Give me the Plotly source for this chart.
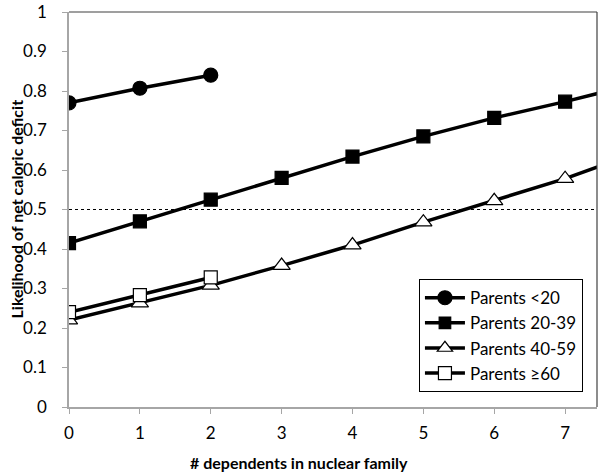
import plotly.graph_objects as go

x_all = [0, 1, 2, 3, 4, 5, 6, 7, 7.6]
p_lt20 = [0.77, 0.807, 0.84]
p_20_39 = [0.415, 0.47, 0.525, 0.58, 0.634, 0.685, 0.732, 0.773, 0.80]
p_40_59 = [0.22, 0.263, 0.308, 0.358, 0.41, 0.468, 0.522, 0.578, 0.617]
p_ge60 = [0.24, 0.283, 0.328]
threshold = 0.5
names = ["Parents <20", "Parents 20-39", "Parents 40-59", "Parents \u226560"]
x_ticks = [0, 1, 2, 3, 4, 5, 6, 7]
y_ticks = [0, 0.1, 0.2, 0.3, 0.4, 0.5, 0.6, 0.7, 0.8, 0.9, 1]
y_ticktext = ["0", "0.1", "0.2", "0.3", "0.4", "0.5", "0.6", "0.7", "0.8", "0.9", "1"]
x_title = "# dependents in nuclear family"
y_title = "Likelihood of net caloric deficit"

FONT = "Lato"
fig = go.Figure()

def add(xs, ys, name, symbol, color, size):
    sizes = [size] * len(ys)
    if len(ys) > 8:
        sizes[-1] = 0
    fig.add_trace(go.Scatter(
        x=xs[:len(ys)], y=ys, name=name, mode="lines+markers",
        line=dict(color="black", width=3.5),
        marker=dict(symbol=symbol, size=sizes, color=color, opacity=1,
                    line=dict(color="black", width=1.2)),
    ))

add(x_all, p_lt20, names[0], "circle", "black", 14)
add(x_all, p_20_39, names[1], "square", "black", 13)
add(x_all, p_40_59, names[2], "triangle-up", "white", 15)
add(x_all, p_ge60, names[3], "square", "white", 13)

fig.add_shape(type="line", xref="paper", yref="y", x0=0, x1=1, y0=threshold, y1=threshold,
              line=dict(color="black", width=1.2, dash="dot"))
# frame top & right
fig.add_shape(type="line", xref="paper", yref="paper", x0=0, x1=1, y0=1, y1=1,
              line=dict(color="#404040", width=1.2))
fig.add_shape(type="line", xref="paper", yref="paper", x0=1, x1=1, y0=0, y1=1,
              line=dict(color="#404040", width=1.2))

# axis titles
fig.add_annotation(text="<b>" + x_title + "</b>", xref="paper", yref="paper",
                   x=(299 - 69) / 528, y=-(462 - 407) / 395, showarrow=False,
                   xanchor="center", yanchor="middle", font=dict(family=FONT, size=16))
fig.add_annotation(text="<b>" + y_title + "</b>", xref="paper", yref="paper",
                   x=0, xshift=-53, y=0.5, showarrow=False, textangle=-90,
                   xanchor="center", yanchor="middle", font=dict(family=FONT, size=16))

fig.update_layout(
    width=603, height=474,
    margin=dict(l=69, r=6, t=12, b=67),
    paper_bgcolor="white", plot_bgcolor="white",
    font=dict(family=FONT, size=17, color="black"),
    showlegend=True,
    legend=dict(x=0.973, y=0.038, xanchor="right", yanchor="bottom",
                bordercolor="black", borderwidth=1.2, bgcolor="white",
                font=dict(family=FONT, size=17), tracegroupgap=0, itemwidth=40),
    xaxis=dict(range=[0, 7.45], tickmode="array", tickvals=x_ticks, automargin=False,
               showgrid=False, zeroline=False, showline=True, linecolor="#a6a6a6", linewidth=1.5,
               ticks="outside", tickcolor="#a6a6a6", ticklen=5, ticklabelstandoff=5),
    yaxis=dict(range=[0, 1], tickmode="array", tickvals=y_ticks, ticktext=y_ticktext, automargin=False,
               showgrid=False, zeroline=False, showline=True, linecolor="#a6a6a6", linewidth=1.5,
               ticks="outside", tickcolor="#a6a6a6", ticklen=5, ticklabelstandoff=12),
)

fig.write_html("out.html", config={"displayModeBar": False},
               post_script="document.body.style.margin='0';document.body.style.overflow='hidden';")
